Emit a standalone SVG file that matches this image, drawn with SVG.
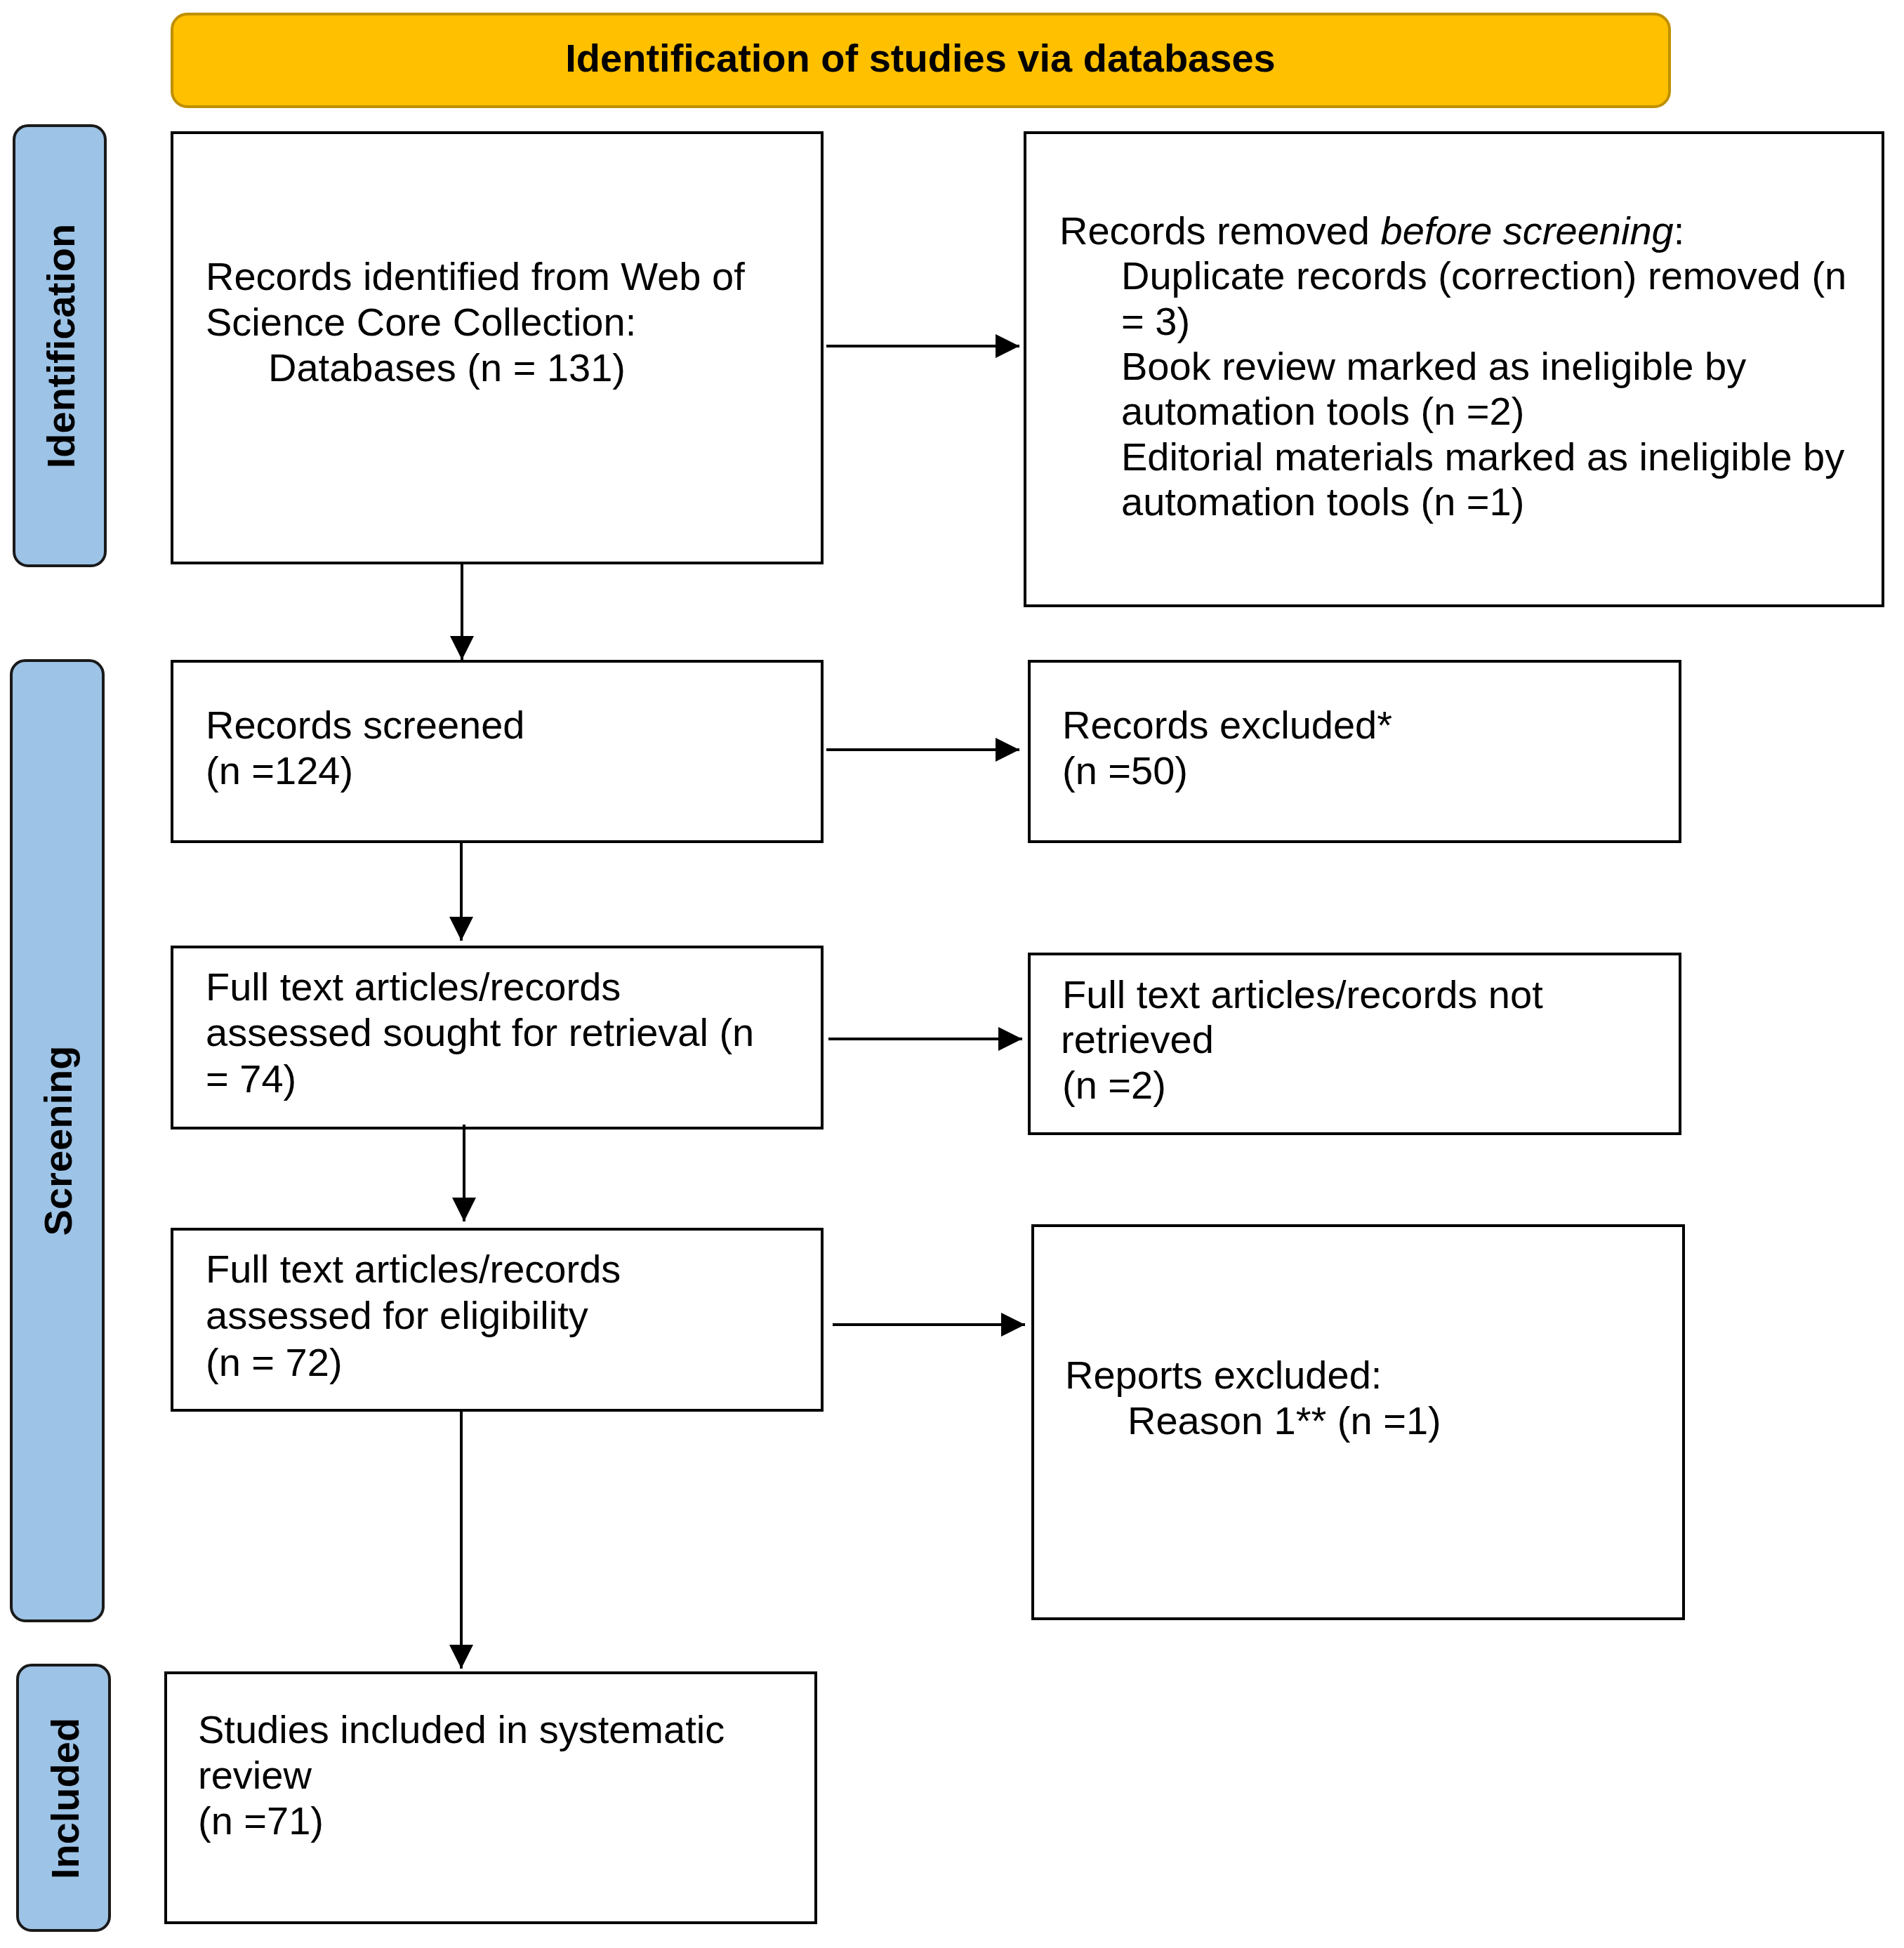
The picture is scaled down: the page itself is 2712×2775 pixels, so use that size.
<svg xmlns="http://www.w3.org/2000/svg" width="2712" height="2775" viewBox="0 0 2712 2775">
<defs>
<style>
.box{fill:#ffffff;stroke:#000000;stroke-width:4}
.side{fill:#9DC3E6;stroke:#1a1a1a;stroke-width:4}
.banner{fill:#FFC000;stroke:#BF9000;stroke-width:4}
.t{font-family:"Liberation Sans",Arial,sans-serif;font-size:56px;fill:#000000}
.b{font-family:"Liberation Sans",Arial,sans-serif;font-size:56px;font-weight:bold;fill:#000000}
.conn{stroke:#000000;stroke-width:4;fill:none}
</style>
<marker id="arr" viewBox="0 0 10 10" refX="10" refY="5" markerWidth="36" markerHeight="34" markerUnits="userSpaceOnUse" orient="auto">
<path d="M0,0 L10,5 L0,10 z" fill="#000000"/>
</marker>
</defs>
<rect width="2712" height="2775" fill="#ffffff"/>

<g id="banner">
<rect class="banner" x="245" y="20" width="2133" height="132" rx="22" ry="22"/>
<text class="b" x="1311" y="102" text-anchor="middle">Identification of studies via databases</text>
</g>

<g id="side-identification">
<rect class="side" x="20" y="179" width="130" height="627" rx="20" ry="20"/>
<text class="b" transform="translate(106,493) rotate(-90)" text-anchor="middle">Identification</text>
</g>
<g id="side-screening">
<rect class="side" x="16" y="941" width="131" height="1368" rx="20" ry="20"/>
<text class="b" transform="translate(102,1625) rotate(-90)" text-anchor="middle">Screening</text>
</g>
<g id="side-included">
<rect class="side" x="25" y="2372" width="131" height="378" rx="20" ry="20"/>
<text class="b" transform="translate(112,2562) rotate(-90)" text-anchor="middle">Included</text>
</g>

<g id="identified">
<rect class="box" x="245" y="189" width="926" height="613"/>
<text class="t" x="293" y="413">Records identified from Web of</text>
<text class="t" x="293" y="478">Science Core Collection:</text>
<text class="t" x="382" y="543">Databases (n = 131)</text>
</g>

<g id="removed">
<rect class="box" x="1460" y="189" width="1222" height="674"/>
<text class="t" x="1509" y="348">Records removed <tspan font-style="italic">before screening</tspan>:</text>
<text class="t" x="1597" y="412">Duplicate records (correction) removed (n</text>
<text class="t" x="1597" y="477">= 3)</text>
<text class="t" x="1597" y="541">Book review marked as ineligible by</text>
<text class="t" x="1597" y="605">automation tools (n =2)</text>
<text class="t" x="1597" y="670">Editorial materials marked as ineligible by</text>
<text class="t" x="1597" y="734">automation tools (n =1)</text>
</g>

<g id="screened">
<rect class="box" x="245" y="942" width="926" height="257"/>
<text class="t" x="293" y="1052">Records screened</text>
<text class="t" x="293" y="1117">(n =124)</text>
</g>

<g id="excluded">
<rect class="box" x="1466" y="942" width="927" height="257"/>
<text class="t" x="1513" y="1052">Records excluded*</text>
<text class="t" x="1513" y="1117">(n =50)</text>
</g>

<g id="sought">
<rect class="box" x="245" y="1349" width="926" height="258"/>
<text class="t" x="293" y="1425">Full text articles/records</text>
<text class="t" x="293" y="1490">assessed sought for retrieval (n</text>
<text class="t" x="293" y="1556">= 74)</text>
</g>

<g id="not-retrieved">
<rect class="box" x="1466" y="1359" width="927" height="256"/>
<text class="t" x="1513" y="1436">Full text articles/records not</text>
<text class="t" x="1511" y="1500">retrieved</text>
<text class="t" x="1513" y="1565">(n =2)</text>
</g>

<g id="eligibility">
<rect class="box" x="245" y="1751" width="926" height="258"/>
<text class="t" x="293" y="1827">Full text articles/records</text>
<text class="t" x="293" y="1893">assessed for eligibility</text>
<text class="t" x="293" y="1960">(n = 72)</text>
</g>

<g id="reports-excluded">
<rect class="box" x="1471" y="1746" width="927" height="560"/>
<text class="t" x="1517" y="1978">Reports excluded:</text>
<text class="t" x="1606" y="2043">Reason 1** (n =1)</text>
</g>

<g id="included">
<rect class="box" x="236" y="2383" width="926" height="356"/>
<text class="t" x="282" y="2483">Studies included in systematic</text>
<text class="t" x="282" y="2548">review</text>
<text class="t" x="282" y="2613">(n =71)</text>
</g>

<g id="connectors">
<line class="conn" x1="1177" y1="493" x2="1452" y2="493" marker-end="url(#arr)"/>
<line class="conn" x1="658" y1="802" x2="658" y2="940" marker-end="url(#arr)"/>
<line class="conn" x1="1177" y1="1068" x2="1452" y2="1068" marker-end="url(#arr)"/>
<line class="conn" x1="657" y1="1201" x2="657" y2="1340" marker-end="url(#arr)"/>
<line class="conn" x1="1180" y1="1480" x2="1456" y2="1480" marker-end="url(#arr)"/>
<line class="conn" x1="661" y1="1602" x2="661" y2="1740" marker-end="url(#arr)"/>
<line class="conn" x1="1186" y1="1887" x2="1460" y2="1887" marker-end="url(#arr)"/>
<line class="conn" x1="657" y1="2011" x2="657" y2="2377" marker-end="url(#arr)"/>
</g>
</svg>
